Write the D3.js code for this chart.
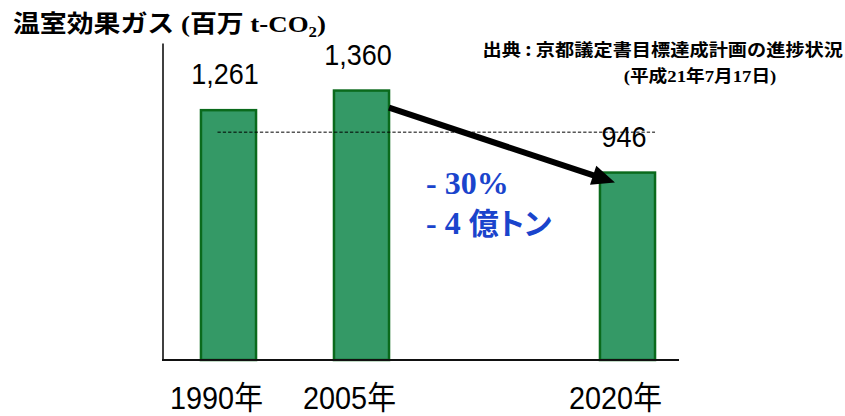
<!DOCTYPE html>
<html>
<head>
<meta charset="utf-8">
<script src="https://cdn.jsdelivr.net/npm/d3@7/dist/d3.min.js"></script>
<style>
  html, body { margin: 0; padding: 0; background: #fff; }
  svg { display: block; }
</style>
</head>
<body>
<svg id="chart" width="845" height="416"></svg>
<script>
// Greenhouse gas emissions (million t-CO2), Kyoto city
const slots = ["1990年", "2005年", "", "2020年"];   // third slot left empty as a gap
const values = [1261, 1360, null, 946];
const valueLabels = ["1,261", "1,360", "", "946"];
const referenceValue = 1150;                       // dashed reference level
const yDomain = [0, 1600];

const titleMain = "温室効果ガス";
const sourceLine1 = "出典 : 京都議定書目標達成計画の進捗状況";
const reductionPct = "- 30%";
const reductionAmt = ["- 4 ", "億トン"];

const svg = d3.select("#chart");
const W = 845, H = 416;
svg.append("rect").attr("width", W).attr("height", H).attr("fill", "#fff");

const gothic = "'Noto Sans CJK JP', 'Noto Sans', sans-serif";
const serif = "'Liberation Serif', 'DejaVu Serif', serif";
const sans = "'Liberation Sans', Arial, 'Noto Sans CJK JP', sans-serif";

const x = d3.scaleBand()
  .domain(slots)
  .range([162, 694])
  .paddingInner(0.586)
  .paddingOuter(0.293);

const y = d3.scaleLinear().domain(yDomain).range([360, 43]);

const bw = x.bandwidth();
const data = slots.map((s, i) => ({ slot: s, v: values[i], label: valueLabels[i] }))
  .filter(d => d.v != null);

// bars
svg.append("g").selectAll("rect")
  .data(data)
  .join("rect")
  .attr("x", d => x(d.slot))
  .attr("y", d => y(d.v))
  .attr("width", bw)
  .attr("height", d => y(0) - y(d.v))
  .attr("fill", "#349966")
  .attr("stroke", "#0a6a1c")
  .attr("stroke-width", 2.5);

// dashed reference level
svg.append("line")
  .attr("x1", x("1990年") + bw * 0.3)
  .attr("x2", x("2020年") + bw)
  .attr("y1", y(referenceValue)).attr("y2", y(referenceValue))
  .attr("stroke", "#000").attr("stroke-width", 1)
  .attr("stroke-dasharray", "3.3,2");

// vertical axis (no ticks)
const yAxis = svg.append("g")
  .attr("transform", "translate(162.5,0)")
  .call(d3.axisLeft(y).tickValues([]).tickSizeOuter(0));
yAxis.select(".domain").attr("stroke", "#000").attr("stroke-width", 1.5);

// baseline
svg.append("line")
  .attr("x1", 162).attr("x2", x.range()[1] - 15)
  .attr("y1", y(0)).attr("y2", y(0))
  .attr("stroke", "#111").attr("stroke-width", 2);

// value labels above bars
svg.append("g").selectAll("text")
  .data(data)
  .join("text")
  .attr("transform", d => `translate(${x(d.slot) + bw / 2 - 3.5},${y(d.v) - 26}) scale(0.9,1)`)
  .attr("text-anchor", "middle")
  .attr("font-family", sans)
  .attr("font-size", 30)
  .attr("fill", "#000")
  .text(d => d.label);

// category labels
svg.append("g").selectAll("text")
  .data(slots.filter(s => s !== ""))
  .join("text")
  .attr("transform", s => `translate(${x(s) + bw / 2 - 12},409) scale(0.9,1)`)
  .attr("text-anchor", "middle")
  .attr("font-family", sans)
  .attr("font-size", 32)
  .attr("fill", "#000")
  .text(s => s);

// arrow from 2005 bar to 2020 bar
const p0 = [x("2005年") + bw, y(1360) + 17];
const p1 = [x("2020年") + 15, y(946) + 10];
const ang = Math.atan2(p1[1] - p0[1], p1[0] - p0[0]);
const headLen = 23, headHalf = 10;
const base = [p1[0] - headLen * Math.cos(ang), p1[1] - headLen * Math.sin(ang)];
svg.append("line")
  .attr("x1", p0[0]).attr("y1", p0[1])
  .attr("x2", base[0] + 2 * Math.cos(ang)).attr("y2", base[1] + 2 * Math.sin(ang))
  .attr("stroke", "#000").attr("stroke-width", 6);
const nx = -Math.sin(ang), ny = Math.cos(ang);
svg.append("path")
  .attr("d", d3.line()([
    p1,
    [base[0] + nx * headHalf, base[1] + ny * headHalf],
    [base[0] - nx * headHalf, base[1] - ny * headHalf]
  ]) + "Z")
  .attr("fill", "#000");

// reduction annotation
const blue = "#1a44cc";
svg.append("text")
  .attr("x", 426).attr("y", 194)
  .attr("font-family", serif).attr("font-weight", "bold")
  .attr("font-size", 32).attr("fill", blue)
  .text(reductionPct);
const amt = svg.append("text")
  .attr("x", 426).attr("y", 234)
  .attr("font-weight", "bold").attr("font-size", 32).attr("fill", blue);
amt.append("tspan").attr("font-family", serif).text(reductionAmt[0]);
amt.append("tspan").attr("font-family", gothic).attr("font-size", 30)
  .attr("letter-spacing", -3).text(reductionAmt[1]);

// title
const title = svg.append("text")
  .attr("transform", "translate(13,32) scale(1.12,1)")
  .attr("font-weight", "bold").attr("font-size", 24).attr("fill", "#000");
title.append("tspan").attr("font-family", gothic).text(titleMain);
title.append("tspan").attr("font-family", serif).text(" (");
title.append("tspan").attr("font-family", gothic).text("百万");
title.append("tspan").attr("font-family", serif).text(" t-CO");
title.append("tspan").attr("font-family", serif).attr("font-size", 15).attr("dy", 5).text("2");
title.append("tspan").attr("font-family", serif).attr("dy", -5).text(")");

// source note
svg.append("text")
  .attr("transform", "translate(843,56) scale(1.13,1)")
  .attr("text-anchor", "end")
  .attr("font-family", gothic).attr("font-weight", "bold")
  .attr("font-size", 17).attr("fill", "#000")
  .text(sourceLine1);
const src2 = svg.append("text")
  .attr("transform", "translate(700,82) scale(1.1,1)")
  .attr("text-anchor", "middle")
  .attr("font-weight", "bold").attr("font-size", 17).attr("fill", "#000");
[["(", serif], ["平成", gothic], ["21", serif], ["年", gothic], ["7", serif],
 ["月", gothic], ["17", serif], ["日", gothic], [")", serif]].forEach(([t, f]) => {
  src2.append("tspan").attr("font-family", f).text(t);
});
</script>
</body>
</html>
